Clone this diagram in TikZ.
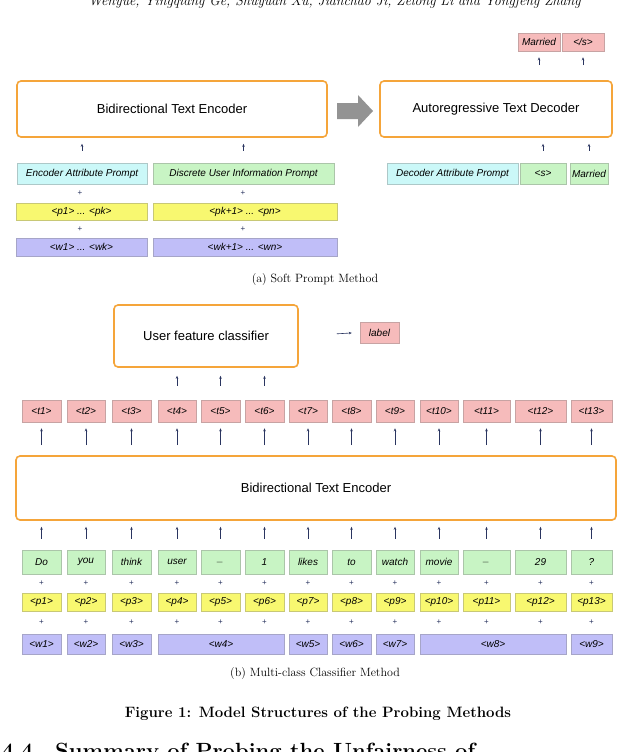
\documentclass[tikz,border=0pt]{standalone}
\usepackage{fontspec}
\newfontfamily\tokfont{Liberation Sans}
\usetikzlibrary{arrows.meta,calc}
\definecolor{orng}{HTML}{F5A53A}
\definecolor{pnk}{HTML}{F6BBBB}
\definecolor{ylw}{HTML}{F8F870}
\definecolor{grn}{HTML}{C8F4C4}
\definecolor{cyn}{HTML}{CBF8F8}
\definecolor{prp}{HTML}{C0BEF8}
\definecolor{navy}{HTML}{2A3560}
\tikzset{
 bigbox/.style={draw=orng,line width=1.6pt,rounded corners=4pt,fill=white,font=\tokfont\fontsize{13}{15}\selectfont,inner sep=0pt},
 tok/.style={draw=#1!60!gray,fill=#1,inner sep=0pt,font=\tokfont\itshape\fontsize{10}{11}\selectfont,line width=0.5pt},
 arr/.style={draw=navy,line width=0.6pt,-{Stealth[length=3pt,width=2.5pt]}},
 plus/.style={font=\tokfont\fontsize{8}{9}\selectfont,inner sep=0pt,text=navy}
}
\newcommand\bx[7]{\node[tok=#1,minimum width={(#4-#3)*1pt},minimum height={(#6-#5)*1pt}] (#2) at ({(#3+#4)/2},{(#5+#6)/2}) {#7};}
\begin{document}
\begin{tikzpicture}[x=1pt,y=-1pt]
\useasboundingbox (0,0) rectangle (640,752);
\begin{scope}
\clip (0,0) rectangle (640,752);
\fill[white] (0,0) rectangle (640,752);
\node[anchor=west,font=\itshape\fontsize{14}{16}\selectfont] (hdr) at (85,2) {Wenyue, Yingqiang Ge, Shuyuan Xu, Jianchao Ji, Zelong Li and Yongfeng Zhang};
% (a)
\node[bigbox,minimum width=310pt,minimum height=56pt] (enc) at (172,109) {Bidirectional Text Encoder};
\node[bigbox,minimum width=232pt,minimum height=56pt] (dec) at (496,109) {Autoregressive Text Decoder};
\fill[gray!85] (337,103) -- (358,103) -- (358,95) -- (373,111) -- (358,127) -- (358,119) -- (337,119) -- cycle;
\bx{pnk}{mt}{518}{560}{33}{51}{Married}
\bx{pnk}{es}{562}{604}{33}{51}{</s>}
\bx{cyn}{eap}{17}{147}{163}{184}{Encoder Attribute Prompt}
\bx{grn}{dui}{153}{334}{163}{184}{Discrete User Information Prompt}
\bx{ylw}{pa}{16}{147}{203}{220}{<p1> ... <pk>}
\bx{ylw}{pb}{153}{337}{203}{220}{<pk+1> ... <pn>}
\bx{prp}{wa}{16}{147}{238}{256}{<w1> ... <wk>}
\bx{prp}{wb}{153}{337}{238}{256}{<wk+1> ... <wn>}
\bx{cyn}{dap}{387}{518}{163}{184}{Decoder Attribute Prompt}
\bx{grn}{ss}{520}{566}{163}{184}{<s>}
\bx{grn}{mb}{570}{608}{163}{184}{Married}
\foreach \n in {eap,dui}{\draw[arr,shorten <=12pt,shorten >=6pt] (\n.north) -- (\n.north |- enc.south);}
\foreach \n in {ss,mb}{\draw[arr,shorten <=12pt,shorten >=6pt] (\n.north) -- (\n.north |- dec.south);}
\draw[arr,shorten <=15pt,shorten >=6pt] (mt.south |- dec.north) -- (mt.south);
\draw[arr,shorten <=15pt,shorten >=6pt] (es.south |- dec.north) -- (es.south);
\node[plus] (pl1) at (80,193) {+};
\node[plus] (pl2) at (243,193) {+};
\node[plus] (pl3) at (80,229) {+};
\node[plus] (pl4) at (243,229) {+};
\node[font=\fontsize{12}{14}\selectfont] (capa) at (315,280) {(a) Soft Prompt Method};
% (b)
\node[bigbox,minimum width=184pt,minimum height=62pt] (ufc) at (206,336) {User feature classifier};
\bx{pnk}{lab}{360}{399}{322}{343}{label}
\draw[arr,shorten <=38pt,shorten >=8pt] (ufc.east) -- (lab.west);
\node[bigbox,minimum width=600pt,minimum height=64pt] (enb) at (316,488) {Bidirectional Text Encoder};
\foreach \i/\a/\b/\g/\p in {1/22/61/Do/1,2/67/105/you/2,3/112/151/think/3,4/158/196/user/4,5/201/240/\_/5,6/245/284/1/6,7/289/327/likes/7,8/332/371/to/8,9/376/414/watch/9,10/420/458/movie/10,11/463/510/\_/11,12/515/566/29/12,13/571/612/?/13}{
 \bx{pnk}{t\i}{\a}{\b}{400}{422}{<t\p>}
 \bx{grn}{g\i}{\a}{\b}{550}{574}{\g}
 \bx{ylw}{y\i}{\a}{\b}{593}{611}{<p\p>}
 \draw[arr,shorten <=10pt,shorten >=6pt] (t\i.south |- enb.north) -- (t\i.south);
 \draw[arr,shorten <=11pt,shorten >=6pt] (g\i.north) -- (g\i.north |- enb.south);
 \node[plus] (pp\i) at ($(g\i.south)!0.5!(y\i.north)$) {+};
 \node[plus] (pq\i) at ({(\a+\b)/2},622) {+};
}
\foreach \n in {t4,t5,t6}{\draw[arr,shorten <=14pt,shorten >=8pt] (\n.north) -- (\n.north |- ufc.south);}
\foreach \n/\a/\b/\w in {w1/22/61/1,w2/67/105/2,w3/112/151/3,w4/158/284/4,w5/289/327/5,w6/332/371/6,w7/376/414/7,w8/420/566/8,w9/571/612/9}{
 \bx{prp}{\n}{\a}{\b}{634}{654}{<w\w>}
}
\node[font=\fontsize{12}{14}\selectfont] (capb) at (315,673) {(b) Multi-class Classifier Method};
\node[font=\bfseries\fontsize{15}{17}\selectfont] (fig) at (318,714) {Figure 1: Model Structures of the Probing Methods};
\node[anchor=west,font=\bfseries\fontsize{22}{24}\selectfont] (sec) at (-2,753) {4.4\quad Summary of Probing the Unfairness of};
\end{scope}
\end{tikzpicture}
\end{document}
